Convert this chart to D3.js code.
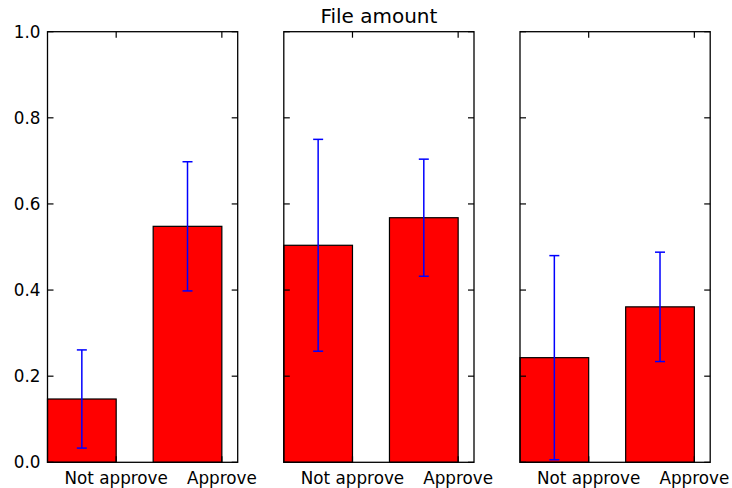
<!DOCTYPE html>
<html>
<head>
<meta charset="utf-8">
<script src="https://cdn.jsdelivr.net/npm/d3@7"></script>
<style>
  html, body { margin: 0; padding: 0; background: #fff; }
  svg { display: block; font-family: "DejaVu Sans", sans-serif; }
</style>
</head>
<body>
<svg id="chart" width="732" height="488"></svg>
<script>
// ---- data ----
const title = "File amount";
const categories = ["Not approve", "Approve"];
const panel1Means = [0.147, 0.548];
const panel1Errors = [0.114, 0.150];
const panel2Means = [0.504, 0.568];
const panel2Errors = [0.246, 0.136];
const panel3Means = [0.243, 0.361];
const panel3Errors = [0.237, 0.127];
const yTicks = [0.0, 0.2, 0.4, 0.6, 0.8, 1.0];

const panels = [
  { means: panel1Means, errors: panel1Errors, showYLabels: true },
  { means: panel2Means, errors: panel2Errors, showYLabels: false },
  { means: panel3Means, errors: panel3Errors, showYLabels: false }
];

// ---- layout ----
const svg = d3.select("#chart");
const panelLefts = [47.5, 283.8, 520];
const panelWidth = 190.2;
const plotTop = 31.7, plotBottom = 462.3;
const barWidth = 0.65;
const tickLen = 6;
const fontSize = 16.8;

const y = d3.scaleLinear().domain([0, 1]).range([plotBottom, plotTop]);

panels.forEach((p, pi) => {
  const left = panelLefts[pi];
  const x = d3.scaleLinear().domain([0, 1.8]).range([left, left + panelWidth]);
  const g = svg.append("g");
  const idx = categories.map((c, i) => i);

  // bars
  g.selectAll("rect.bar").data(idx).enter().append("rect")
    .attr("x", i => x(i))
    .attr("y", i => y(p.means[i]))
    .attr("width", i => x(i + barWidth) - x(i))
    .attr("height", i => y(0) - y(p.means[i]))
    .attr("fill", "#ff0000")
    .attr("stroke", "#000")
    .attr("stroke-width", 1.2);

  // error bars
  idx.forEach(i => {
    const cx = x(i + barWidth / 2);
    const y1 = y(p.means[i] + p.errors[i]);
    const y0 = y(p.means[i] - p.errors[i]);
    g.append("line").attr("x1", cx).attr("x2", cx).attr("y1", y1).attr("y2", y0)
      .attr("stroke", "#0000ff").attr("stroke-width", 1.5);
    [y0, y1].forEach(yy => {
      g.append("line").attr("x1", cx - 5).attr("x2", cx + 5).attr("y1", yy).attr("y2", yy)
        .attr("stroke", "#0000ff").attr("stroke-width", 1.5);
    });
  });

  // spines
  g.append("rect")
    .attr("x", left).attr("y", plotTop)
    .attr("width", panelWidth).attr("height", plotBottom - plotTop)
    .attr("fill", "none").attr("stroke", "#000").attr("stroke-width", 1.3);

  // y ticks (inward, both sides)
  yTicks.forEach(t => {
    const yy = y(t);
    g.append("line").attr("x1", left).attr("x2", left + tickLen).attr("y1", yy).attr("y2", yy)
      .attr("stroke", "#000").attr("stroke-width", 1.2);
    g.append("line").attr("x1", left + panelWidth).attr("x2", left + panelWidth - tickLen).attr("y1", yy).attr("y2", yy)
      .attr("stroke", "#000").attr("stroke-width", 1.2);
    if (p.showYLabels) {
      g.append("text").attr("x", left - 7).attr("y", yy)
        .attr("text-anchor", "end").attr("dominant-baseline", "central")
        .attr("font-size", fontSize).attr("fill", "#000")
        .text(d3.format(".1f")(t));
    }
  });

  // x ticks (inward top and bottom) and labels
  idx.forEach(i => {
    const xx = x(i + barWidth);
    g.append("line").attr("x1", xx).attr("x2", xx).attr("y1", plotTop).attr("y2", plotTop + tickLen)
      .attr("stroke", "#000").attr("stroke-width", 1.2);
    g.append("line").attr("x1", xx).attr("x2", xx).attr("y1", plotBottom).attr("y2", plotBottom - tickLen)
      .attr("stroke", "#000").attr("stroke-width", 1.2);
    g.append("text").attr("x", xx).attr("y", 484)
      .attr("text-anchor", "middle")
      .attr("font-size", fontSize).attr("fill", "#000")
      .text(categories[i]);
  });

  if (pi === 1) {
    svg.append("text")
      .attr("x", left + panelWidth / 2).attr("y", 23)
      .attr("text-anchor", "middle")
      .attr("font-size", 20).attr("fill", "#000")
      .text(title);
  }
});
</script>
</body>
</html>
